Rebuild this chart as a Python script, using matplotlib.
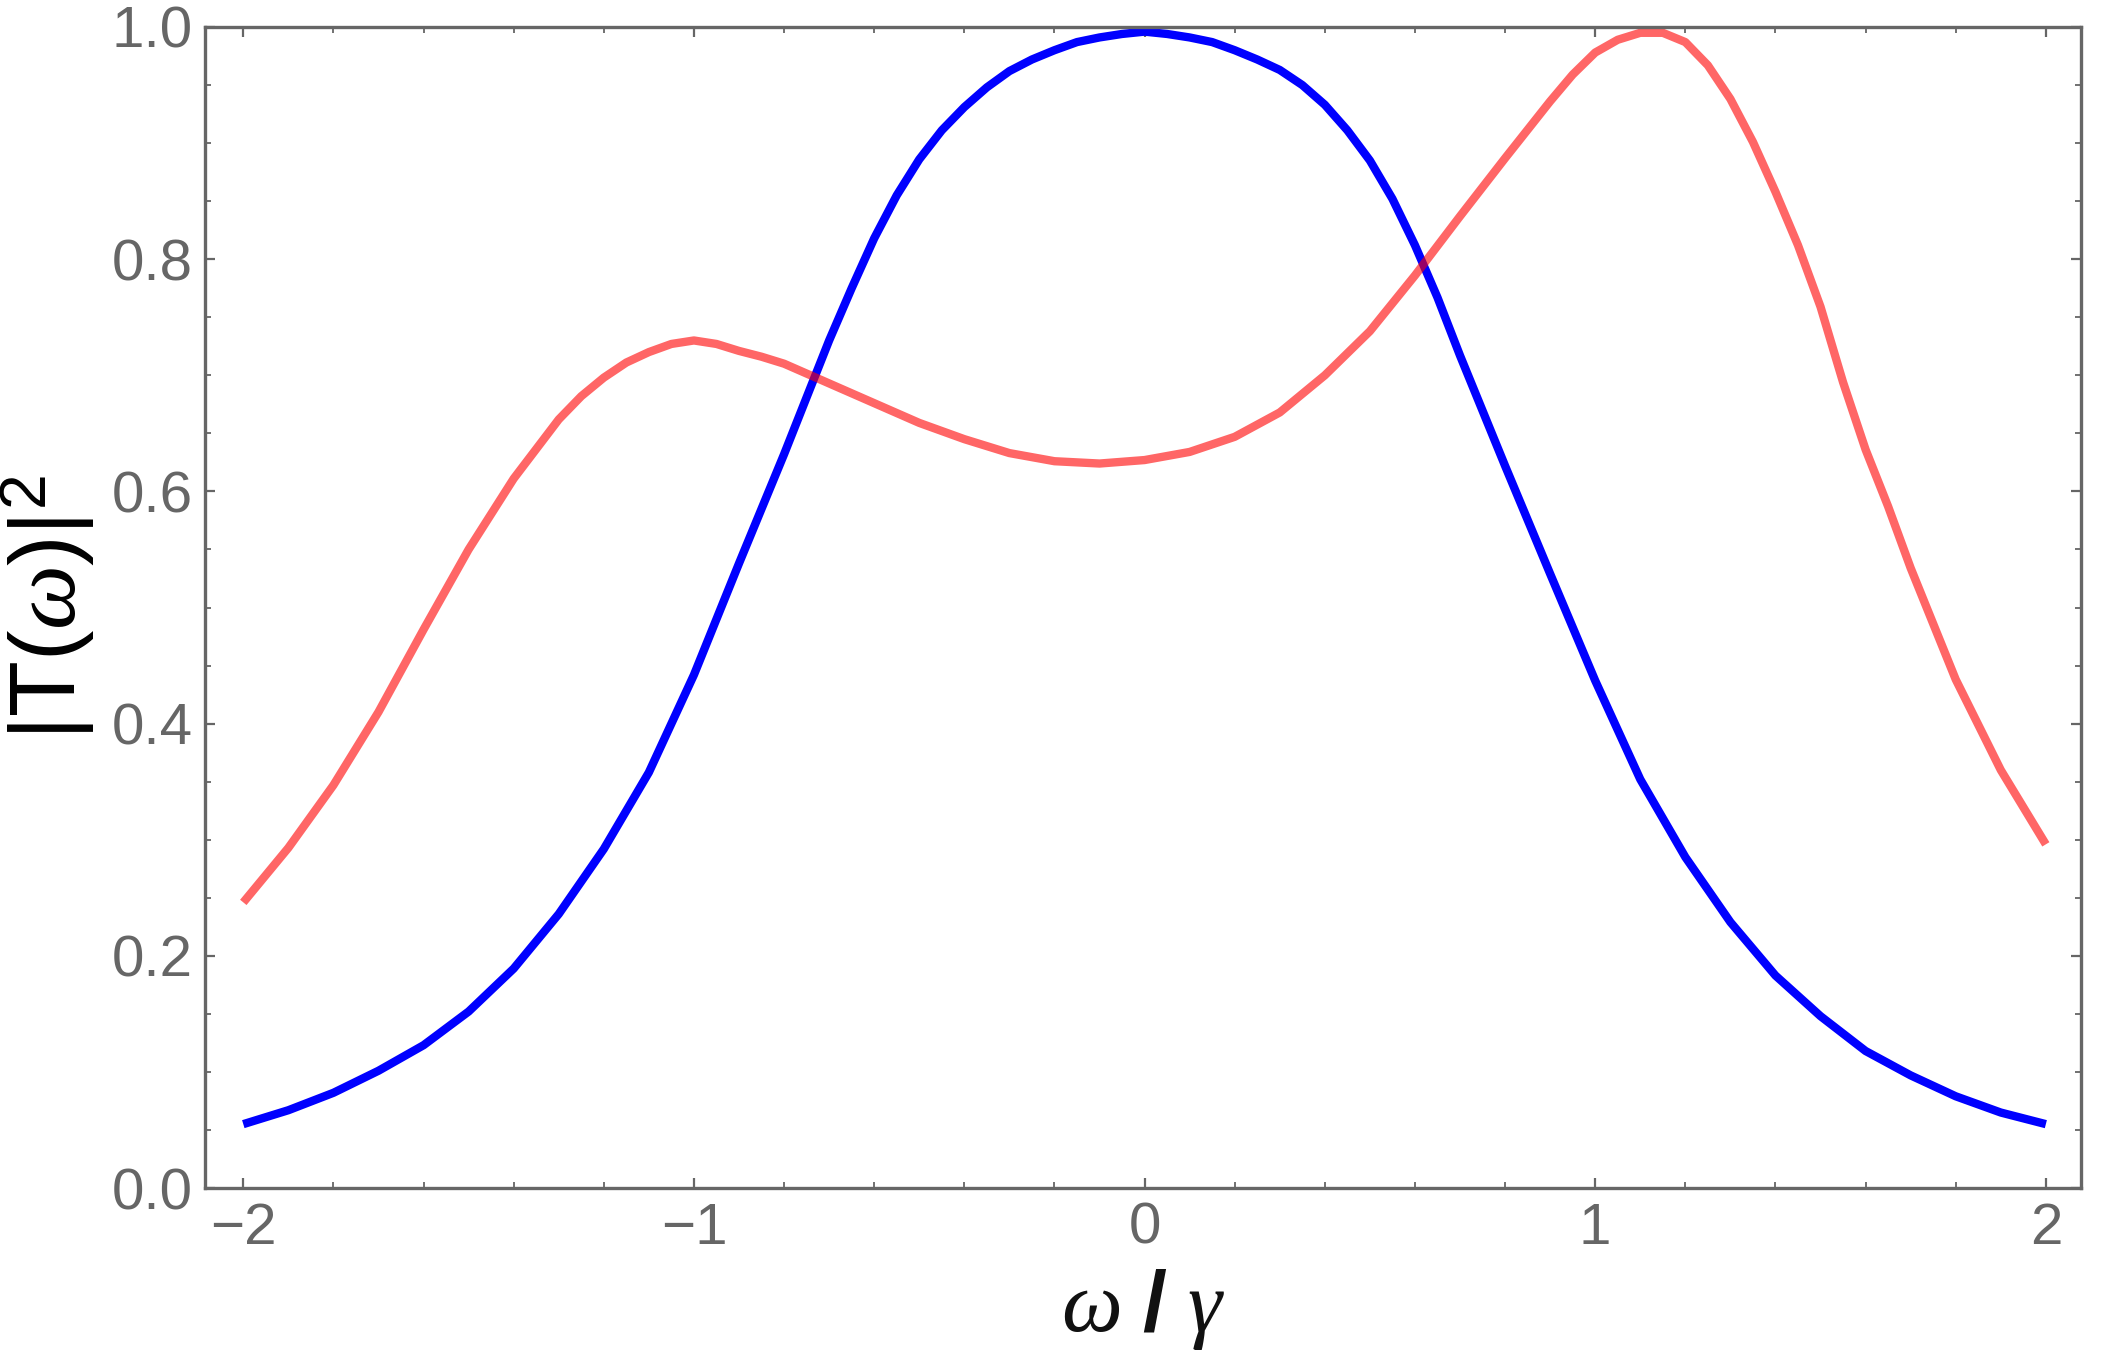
import numpy as np
import matplotlib
matplotlib.use("Agg")
import matplotlib.pyplot as plt
from matplotlib.ticker import MultipleLocator

# ---- data ----
omega_blue = [-2.0, -1.9, -1.8, -1.7, -1.6, -1.5, -1.4, -1.3, -1.2, -1.1,
              -1.0, -0.9, -0.8, -0.7, -0.65, -0.6, -0.55, -0.5, -0.45, -0.4,
              -0.35, -0.3, -0.25, -0.2, -0.15, -0.1, -0.05, 0.0, 0.05, 0.1,
              0.15, 0.2, 0.25, 0.3, 0.35, 0.4, 0.45, 0.5, 0.55, 0.6,
              0.65, 0.7, 0.8, 0.9, 1.0, 1.1, 1.2, 1.3, 1.4, 1.5,
              1.6, 1.7, 1.8, 1.9, 2.0]
T_blue = [0.055, 0.067, 0.082, 0.101, 0.123, 0.152, 0.189, 0.236, 0.292, 0.358,
          0.442, 0.538, 0.632, 0.730, 0.775, 0.818, 0.855, 0.886, 0.911, 0.931,
          0.948, 0.962, 0.972, 0.980, 0.987, 0.991, 0.994, 0.996, 0.994, 0.991,
          0.987, 0.980, 0.972, 0.963, 0.950, 0.933, 0.911, 0.885, 0.852, 0.812,
          0.767, 0.717, 0.622, 0.529, 0.437, 0.352, 0.285, 0.229, 0.183, 0.148,
          0.118, 0.097, 0.079, 0.065, 0.055]

omega_red = [-2.0, -1.9, -1.8, -1.7, -1.6, -1.5, -1.4, -1.3, -1.25, -1.2,
             -1.15, -1.1, -1.05, -1.0, -0.95, -0.9, -0.85, -0.8, -0.7, -0.6,
             -0.5, -0.4, -0.3, -0.2, -0.1, 0.0, 0.1, 0.2, 0.3, 0.4,
             0.5, 0.6, 0.7, 0.8, 0.9, 0.95, 1.0, 1.05, 1.1, 1.15,
             1.2, 1.25, 1.3, 1.35, 1.4, 1.45, 1.5, 1.55, 1.6, 1.65,
             1.7, 1.8, 1.9, 2.0]
T_red = [0.246, 0.293, 0.347, 0.410, 0.481, 0.550, 0.611, 0.662, 0.682, 0.698,
         0.711, 0.720, 0.727, 0.730, 0.727, 0.721, 0.716, 0.710, 0.693, 0.676,
         0.659, 0.645, 0.633, 0.626, 0.624, 0.627, 0.634, 0.647, 0.668, 0.700,
         0.738, 0.786, 0.837, 0.887, 0.936, 0.959, 0.978, 0.989, 0.995, 0.995,
         0.987, 0.967, 0.938, 0.901, 0.858, 0.812, 0.759, 0.694, 0.636, 0.587,
         0.534, 0.438, 0.360, 0.296]

x_ticks = [-2, -1, 0, 1, 2]
y_ticks = [0.0, 0.2, 0.4, 0.6, 0.8, 1.0]
x_tick_labels = ["\u22122", "\u22121", "0", "1", "2"]
y_tick_labels = ["0.0", "0.2", "0.4", "0.6", "0.8", "1.0"]

# ---- style ----
plt.rcParams['font.family'] = ['Liberation Sans', 'DejaVu Sans']
plt.rcParams['mathtext.fontset'] = 'custom'
plt.rcParams['mathtext.rm'] = 'Liberation Sans'
plt.rcParams['mathtext.it'] = 'Liberation Serif:italic'
plt.rcParams['mathtext.bf'] = 'Liberation Sans:bold'

fig = plt.figure(figsize=(21.19, 13.69), dpi=100)
ax = fig.add_axes([205/2119, 1 - 1188/1369, (2081-205)/2119, (1188-27)/1369])

ax.plot(omega_blue, T_blue, color='#0000FF', lw=6.0, solid_capstyle='butt',
        solid_joinstyle='round', zorder=2)
ax.plot(omega_red, T_red, color='red', alpha=0.6, lw=6.0, solid_capstyle='butt',
        solid_joinstyle='round', zorder=3)

ax.set_xlim(-2.085, 2.078)
ax.set_ylim(0, 1)

gray = '#666666'
for s in ax.spines.values():
    s.set_color(gray)
    s.set_linewidth(2.4)
    s.set_zorder(4)

ax.set_xticks(x_ticks)
ax.set_xticklabels(x_tick_labels)
ax.set_yticks(y_ticks)
ax.set_yticklabels(y_tick_labels)
ax.xaxis.set_minor_locator(MultipleLocator(0.2))
ax.yaxis.set_minor_locator(MultipleLocator(0.05))
ax.tick_params(which='both', direction='in', top=True, right=True, color=gray,
               labelcolor=gray, labelsize=42)
ax.tick_params(which='major', length=7, width=1.6)
ax.tick_params(which='minor', length=4, width=1.3)
ax.tick_params(axis='x', which='major', pad=10)
ax.tick_params(axis='y', which='major', pad=9)

ax.set_xlabel(r'$\omega\ \mathbf{/}\ \gamma$', fontsize=62, color='#111111', labelpad=8)
ax.set_ylabel(r'$|\mathrm{T}(\omega)|^{2}$', fontsize=66, color='black', labelpad=10)

fig.savefig('out.png', dpi=100, facecolor='white')
